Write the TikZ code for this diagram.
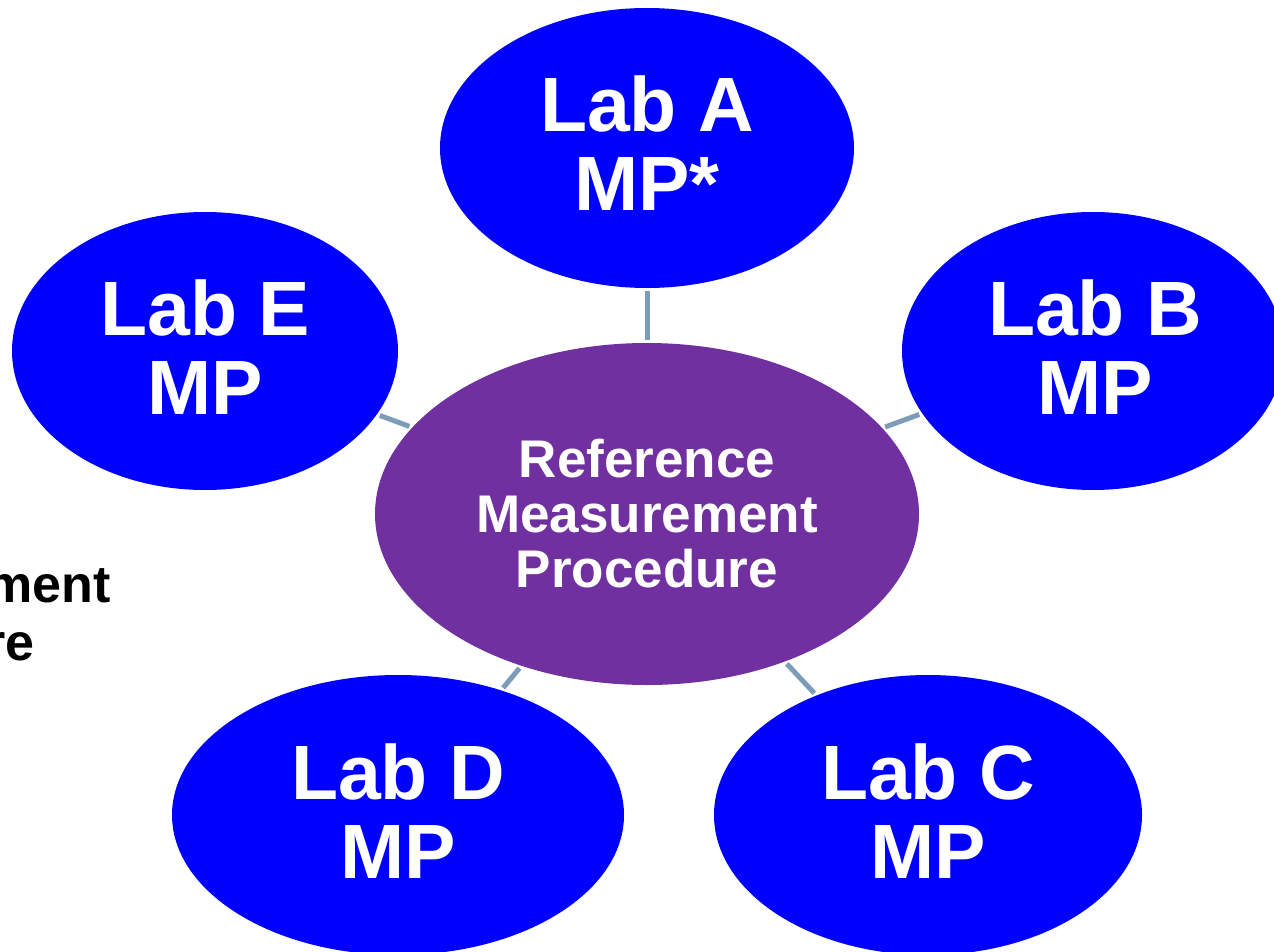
\documentclass[tikz,border=0pt]{standalone}
\usepackage{fontspec}
\setmainfont{Liberation Sans}
\usetikzlibrary{shapes.geometric}
\definecolor{labblue}{RGB}{0,0,255}
\definecolor{refpurple}{RGB}{112,48,160}
\definecolor{linkcol}{RGB}{124,156,186}
\tikzset{
  lab/.style={ellipse, fill=labblue, inner sep=0pt},
  labtext/.style={text=white, inner sep=0pt, align=center,
    font=\fontsize{77}{79}\selectfont\bfseries},
  refnode/.style={ellipse, fill=refpurple, text=white, inner sep=0pt, align=center,
    font=\fontsize{53}{55}\selectfont\bfseries},
  link/.style={draw=linkcol, line width=5pt, shorten <=3pt, shorten >=3pt},
  sidetext/.style={anchor=base west, text=black, inner sep=0pt,
    font=\fontsize{52}{58}\selectfont\bfseries}
}
\begin{document}
\begin{tikzpicture}[x=1pt,y=-1pt]
\useasboundingbox (0,0) rectangle (1274,952);
\clip (0,0) rectangle (1274,952);
\node[sidetext] (s1) at (-225,602) {Measurement};
\node[sidetext] (s2) at (-223,660) {Procedure};
\node[lab, minimum width=414pt, minimum height=280pt] (A) at (647,148) {};
\node[lab, minimum width=386pt, minimum height=278pt] (E) at (205,351) {};
\node[lab, minimum width=382pt, minimum height=278pt] (B) at (1093,351) {};
\node[lab, minimum width=452pt, minimum height=280pt] (D) at (398,815) {};
\node[lab, minimum width=428pt, minimum height=280pt] (C) at (928,815) {};
\node[labtext] (tA) at ([yshift=5pt]A.center) {Lab A\\MP*};
\node[labtext] (tE) at ([yshift=4pt]E.center) {Lab E\\MP};
\node[labtext] (tB) at ([yshift=4pt,xshift=2pt]B.center) {Lab B\\MP};
\node[labtext] (tD) at ([yshift=4pt]D.center) {Lab D\\MP};
\node[labtext] (tC) at ([yshift=4pt]C.center) {Lab C\\MP};
\node[refnode, minimum width=544pt, minimum height=342pt] (R) at (647,514) {Reference\\Measurement\\Procedure};
\draw[link] (A) -- (R);
\draw[link] (E) -- (R);
\draw[link] (B) -- (R);
\draw[link] (D) -- (R);
\draw[link] (C) -- (R);
\end{tikzpicture}
\end{document}
